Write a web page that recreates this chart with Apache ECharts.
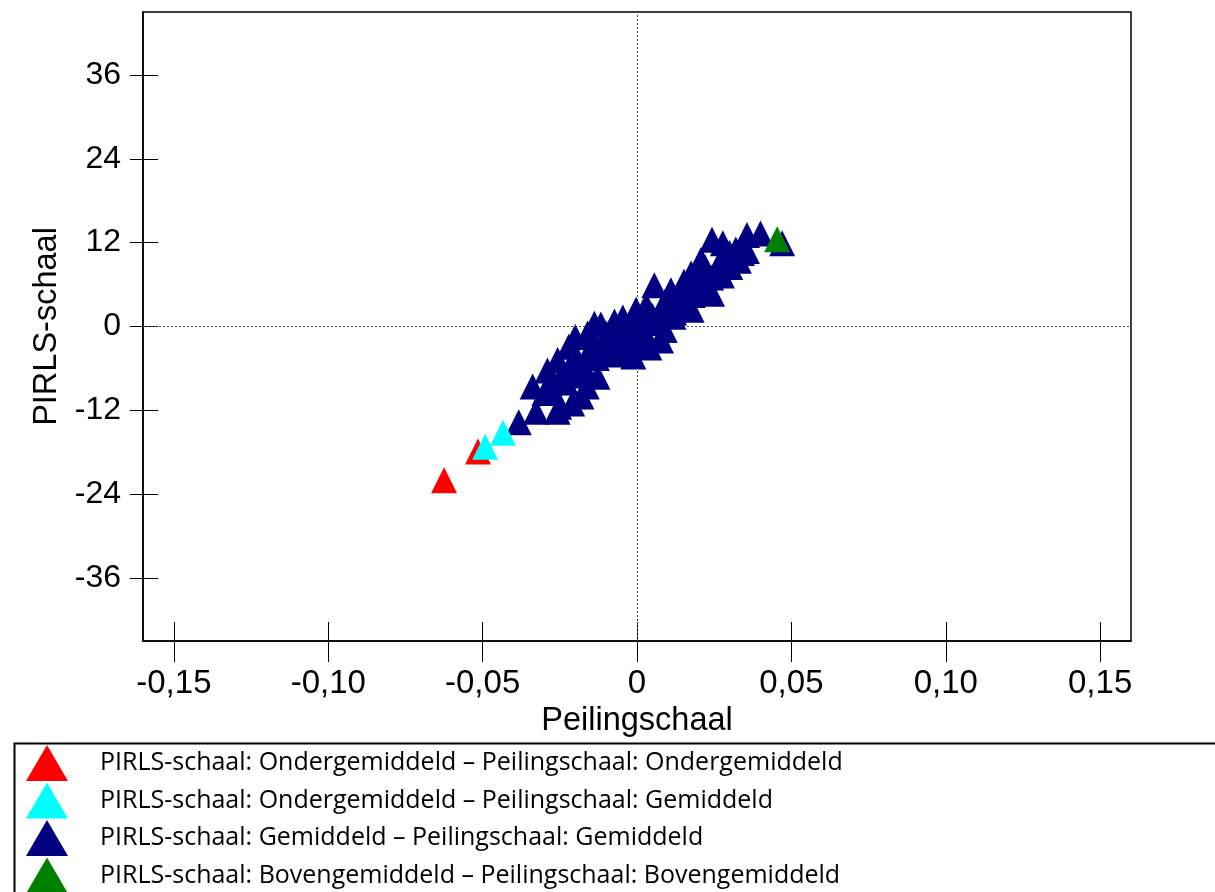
<!DOCTYPE html>
<html>
<head>
<meta charset="utf-8">
<script src="https://cdn.jsdelivr.net/npm/echarts@6/dist/echarts.min.js"></script>
<style>
  html, body { margin: 0; padding: 0; background: #fff; }
  #chart { width: 1215px; height: 892px; }
</style>
</head>
<body>
<div id="chart"></div>
<script>
// Series names (legend order)
const seriesNames = [
  'PIRLS-schaal: Ondergemiddeld \u2013 Peilingschaal: Ondergemiddeld',
  'PIRLS-schaal: Ondergemiddeld \u2013 Peilingschaal: Gemiddeld',
  'PIRLS-schaal: Gemiddeld \u2013 Peilingschaal: Gemiddeld',
  'PIRLS-schaal: Bovengemiddeld \u2013 Peilingschaal: Bovengemiddeld'
];
const seriesColors = ['#ff0000', '#00ffff', '#000080', '#008000'];

// [Peilingschaal, PIRLS-schaal] per school
const belowBelow = [[-0.0625, -22.0], [-0.0515, -17.9]];
const belowAvg = [[-0.0492, -17.2], [-0.0434, -15.2]];
const avgAvg = [
  [-0.0383, -13.7], [-0.0327, -12.2], [-0.0257, -12.2], [-0.0252, -11.5],
  [-0.0338, -8.6], [-0.0290, -6.3], [-0.0257, -4.8], [-0.0221, -2.9],
  [-0.0192, -4.8], [-0.0163, -8.6], [-0.0128, -7.2], [-0.0200, -6.5],
  [-0.0230, -8.0], [-0.0180, -10.0], [-0.0138, 0.4], [-0.0117, 0.3],
  [-0.0073, 0.7], [-0.0046, 1.3], [-0.0003, 2.4], [-0.0100, -2.0],
  [-0.0050, -3.5], [-0.0012, -4.3], [0.0016, -2.7], [0.0078, -2.0],
  [0.0118, 1.4], [0.0056, 5.9], [0.0110, 5.2], [0.0177, 2.4],
  [0.0243, 4.7], [0.0275, 7.3], [0.0302, 8.5], [0.0330, 9.4],
  [0.0356, 10.8], [0.0243, 12.4], [0.0278, 11.9], [0.0356, 13.1],
  [0.0400, 13.3], [0.0207, 9.5], [0.0175, 7.6], [0.0152, 6.4],
  [0.0030, 3.0], [0.0060, 0.5], [-0.0030, -1.0], [0.0000, 0.0],
  [0.0090, 3.5], [0.0140, 4.2], [0.0200, 5.5], [0.0220, 8.5],
  [0.0300, 10.5], [-0.0150, -3.5], [-0.0080, -4.0], [-0.0200, -1.5],
  [-0.0060, -2.5], [-0.0100, -1.0], [0.0030, -1.5], [0.0050, 1.5],
  [0.0080, 2.5], [0.0130, 3.0], [0.0160, 5.0], [0.0190, 6.8],
  [0.0240, 7.0], [0.0270, 9.3], [0.0320, 11.0], [-0.0170, -6.0],
  [-0.0130, -4.5], [-0.0240, -6.8], [-0.0270, -9.5], [-0.0210, -11.0],
  [-0.0070, -1.8], [0.0010, 1.0], [-0.0160, -1.0], [-0.0110, -3.0],
  [-0.0300, -9.5], [-0.0280, -8.0], [-0.0250, -7.5], [-0.0220, -6.0],
  [-0.0190, -7.0], [-0.0160, -4.0], [-0.0140, -2.5], [-0.0090, -3.0],
  [-0.0060, -1.0], [-0.0020, -2.0], [0.0020, -0.5], [0.0040, 2.0],
  [0.0070, 1.0], [0.0100, 3.0], [0.0120, 2.0], [0.0150, 3.5],
  [0.0180, 4.5], [0.0210, 6.5], [0.0230, 5.5], [0.0260, 8.0],
  [0.0290, 9.0], [0.0310, 10.0], [0.0340, 10.5], [0.0040, -3.0],
  [0.0090, -0.5],
  [0.0470, 11.9]
];
const aboveAbove = [[0.0454, 12.5]];

// Axis ticks and their labels
const xTicks = [-0.15, -0.10, -0.05, 0, 0.05, 0.10, 0.15];
const xTickLabels = ['-0,15', '-0,10', '-0,05', '0', '0,05', '0,10', '0,15'];
const yTicks = [-36, -24, -12, 0, 12, 24, 36];
const yTickLabels = ['-36', '-24', '-12', '0', '12', '24', '36'];

const xName = 'Peilingschaal';
const yName = 'PIRLS-schaal';

function labelFor(ticks, labels) {
  return function (v) {
    for (let i = 0; i < ticks.length; i++) {
      if (Math.abs(ticks[i] - v) < 1e-9) return labels[i];
    }
    return '';
  };
}

const axisFont = 'Liberation Sans, Arial, sans-serif';
const chart = echarts.init(document.getElementById('chart'), null, { renderer: 'canvas' });

const grid = { left: 143, top: 12, width: 988, height: 629, show: true,
  borderColor: '#000', borderWidth: 1.5, backgroundColor: 'transparent' };

const xMain = {
  type: 'value', min: -0.16, max: 0.16, position: 'bottom',
  name: xName, nameLocation: 'middle', nameGap: 55,
  nameTextStyle: { fontFamily: axisFont, fontSize: 32.5, color: '#000' },
  axisLine: { onZero: false, lineStyle: { color: '#000', width: 1.5 } },
  axisTick: { show: true, inside: false, length: 21, customValues: xTicks,
    lineStyle: { color: '#000', width: 1 } },
  axisLabel: { customValues: xTicks, formatter: labelFor(xTicks, xTickLabels),
    margin: 26, fontFamily: axisFont, fontSize: 33, color: '#000' },
  splitLine: { show: false }
};
const xInner = {
  type: 'value', min: -0.16, max: 0.16, position: 'bottom',
  axisLine: { show: false, onZero: false },
  axisTick: { show: true, inside: true, length: 19, customValues: xTicks,
    lineStyle: { color: '#000', width: 1 } },
  axisLabel: { show: false },
  splitLine: { show: false }
};
const yMain = {
  type: 'value', min: -45, max: 45, position: 'left',
  name: yName, nameLocation: 'middle', nameGap: 74, nameRotate: 90,
  nameTextStyle: { fontFamily: axisFont, fontSize: 32.5, color: '#000' },
  axisLine: { onZero: false, lineStyle: { color: '#000', width: 1.5 } },
  axisTick: { show: true, inside: false, length: 13, customValues: yTicks,
    lineStyle: { color: '#000', width: 1 } },
  axisLabel: { customValues: yTicks, formatter: labelFor(yTicks, yTickLabels),
    margin: 22, fontFamily: axisFont, fontSize: 32, color: '#000' },
  splitLine: { show: false }
};
const yInner = {
  type: 'value', min: -45, max: 45, position: 'left',
  axisLine: { show: false, onZero: false },
  axisTick: { show: true, inside: true, length: 15, customValues: yTicks,
    lineStyle: { color: '#000', width: 1 } },
  axisLabel: { show: false },
  splitLine: { show: false }
};

function scatter(idx, data, z) {
  return {
    name: seriesNames[idx], type: 'scatter', data: data,
    symbol: 'triangle', symbolSize: 26, z: z,
    itemStyle: { color: seriesColors[idx], opacity: 1 },
    emphasis: { disabled: true }
  };
}

const navy = scatter(2, avgAvg, 2);
// zero reference lines through the origin
navy.markLine = {
  silent: true, symbol: 'none', animation: false, z: 1,
  label: { show: false },
  lineStyle: { type: [2, 2], color: '#444', width: 1 },
  data: [{ xAxis: 0 }, { yAxis: 0 }]
};

chart.setOption({
  animation: false,
  backgroundColor: '#fff',
  grid: grid,
  xAxis: [xMain, xInner],
  yAxis: [yMain, yInner],
  legend: {
    data: seriesNames,
    orient: 'vertical', left: 26, top: 745, height: 200, padding: 0,
    icon: 'triangle', itemWidth: 42, itemHeight: 36, itemGap: 1.5,
    selectedMode: false,
    textStyle: { fontFamily: '"Open Sans", "Noto Sans", sans-serif', fontSize: 25,
      color: '#000', padding: [0, 0, 0, 27] }
  },
  graphic: [{
    type: 'rect', left: 12, top: 741, z: 0, silent: true,
    shape: { width: 1260, height: 200 },
    style: { fill: 'none', stroke: '#000', lineWidth: 2 }
  }],
  series: [
    scatter(0, belowBelow, 3),
    scatter(1, belowAvg, 4),
    navy,
    scatter(3, aboveAbove, 5)
  ]
});
</script>
</body>
</html>
